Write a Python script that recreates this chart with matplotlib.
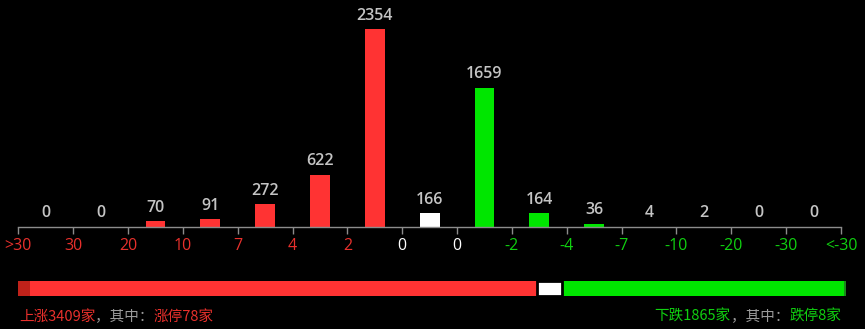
import matplotlib
matplotlib.use("Agg")
import matplotlib.pyplot as plt
import numpy as np

plt.rcParams['font.family'] = ['Noto Sans CJK SC', 'DejaVu Sans']

# bucket labels (boundaries) and counts per bucket
tick_labels = ['>30', '30', '20', '10', '7', '4', '2', '0', '0',
               '-2', '-4', '-7', '-10', '-20', '-30', '<-30']
counts = [0, 0, 70, 91, 272, 622, 2354, 166, 1659, 164, 36, 4, 2, 0, 0]
n_up = 7       # first 7 buckets are up
n_flat = 1     # then one flat bucket

up_total = 3409
flat_total = 166
down_total = 1865
limit_up = 78
limit_down = 8

RED = '#ff3333'
RED_TXT = '#e8302c'
DARK_RED = '#c0221a'
GREEN = '#00e600'
GREEN_TXT = '#10d010'
DARK_GREEN = '#1a8a1a'
WHITE = '#ffffff'
GRAY = '#c4c4c4'
AXIS = '#8c8c8c'
NUM_FONT = ['Open Sans', 'DejaVu Sans']

W, H = 865, 329
fig = plt.figure(figsize=(W / 100, H / 100), dpi=100, facecolor='black')

# main bar chart
x0, x1 = 18.3, 841.0
ybase, ytop = 227.0, 29.3
ax = fig.add_axes([x0 / W, (H - ybase) / H, (x1 - x0) / W, (ybase - ytop) / H])
ax.set_facecolor('black')

colors = [RED] * n_up + [WHITE] * n_flat + [GREEN] * (len(counts) - n_up - n_flat)
xs = np.arange(len(counts))
ax.bar(xs, counts, width=0.36, color=colors, zorder=2)
for xi, c in zip(xs, counts):
    ax.annotate(str(c), (xi, c), xytext=(0, 4), textcoords='offset points',
                ha='center', va='bottom', color=GRAY, fontsize=11.5,
                family=NUM_FONT, fontweight='semibold', annotation_clip=False)

ax.set_xlim(-0.5, len(counts) - 0.5)
ax.set_ylim(0, max(counts))
for s in ['top', 'right', 'left']:
    ax.spines[s].set_visible(False)
ax.spines['bottom'].set_color(AXIS)
ax.spines['bottom'].set_linewidth(1)
ax.set_yticks([])
ax.set_xticks(np.arange(len(tick_labels)) - 0.5)
ax.set_xticklabels(tick_labels, fontsize=11.5, family=NUM_FONT)
ax.tick_params(axis='x', colors=AXIS, length=5, width=1, pad=3)
for i, lab in enumerate(ax.get_xticklabels()):
    if i < n_up:
        lab.set_color(RED_TXT)
    elif tick_labels[i] == '0':
        lab.set_color(WHITE)
    else:
        lab.set_color(GREEN_TXT)

# ratio bar
bx0, bx1 = 18.3, 845.7
by0, by1 = 296.0, 281.0
bax = fig.add_axes([bx0 / W, (H - by0) / H, (bx1 - bx0) / W, (by0 - by1) / H])
bax.set_facecolor('black')
bax.axis('off')
total = up_total + flat_total + down_total
bax.set_xlim(0, total)
bax.set_ylim(-0.5, 0.5)
bax.barh(0, limit_up, left=0, height=1, color=DARK_RED)
bax.barh(0, up_total - limit_up, left=limit_up, height=1, color=RED)
bax.barh(0, down_total - limit_down, left=up_total + flat_total, height=1, color=GREEN)
bax.barh(0, limit_down, left=total - limit_down, height=1, color=DARK_GREEN)
bax.barh(0, flat_total, left=up_total, height=1, color=WHITE,
         edgecolor='black', linewidth=2)

# summary text
ty = 1 - 316.5 / H
fs = 10.5
t1 = fig.text(19 / W, ty, f'上涨{up_total}家', color=RED_TXT, fontsize=fs, va='center')
fig.canvas.draw()
r = fig.canvas.get_renderer()
bb = t1.get_window_extent(r)
t2 = fig.text(bb.x1 / W, ty, '，其中：', color='#9a9a9a', fontsize=fs, va='center')
bb = t2.get_window_extent(r)
fig.text(bb.x1 / W, ty, f'涨停{limit_up}家', color=RED_TXT, fontsize=fs, va='center')

s1 = fig.text(841 / W, ty, f'跌停{limit_down}家', color=GREEN_TXT, fontsize=fs,
              va='center', ha='right')
bb = s1.get_window_extent(r)
s2 = fig.text(bb.x0 / W, ty, '，其中：', color='#9a9a9a', fontsize=fs,
              va='center', ha='right')
bb = s2.get_window_extent(r)
fig.text(bb.x0 / W, ty, f'下跌{down_total}家', color=GREEN_TXT, fontsize=fs,
         va='center', ha='right')

fig.savefig('out.png', dpi=100, facecolor='black')
